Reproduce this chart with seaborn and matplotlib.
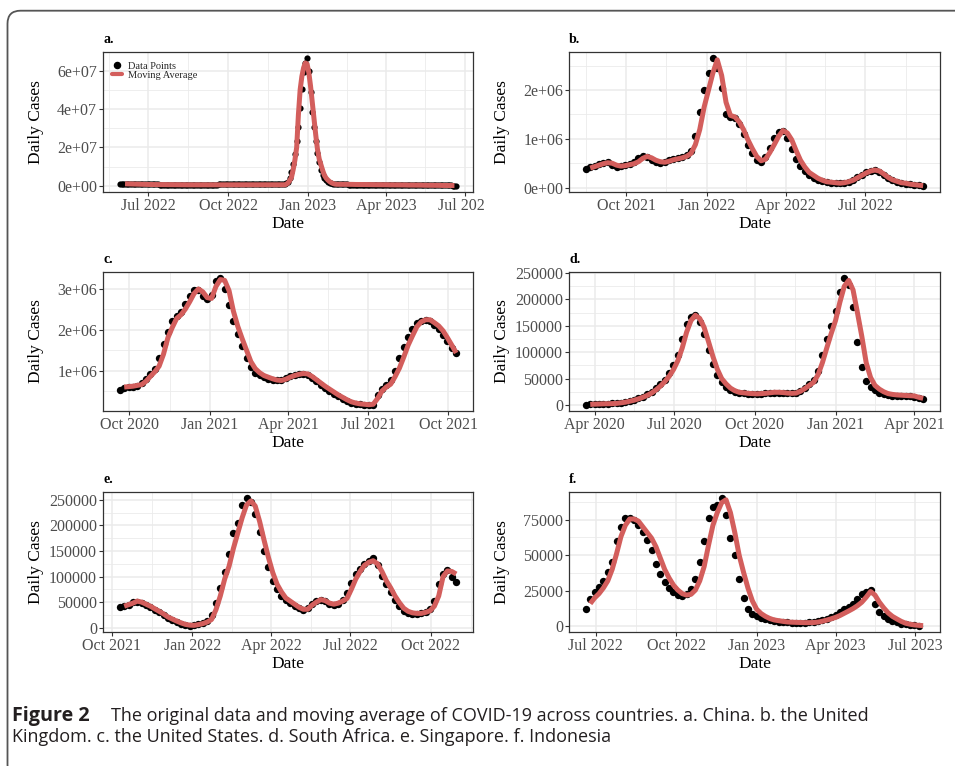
import numpy as np
import pandas as pd
import matplotlib
matplotlib.use("Agg")
import matplotlib.pyplot as plt
import matplotlib.dates as mdates
import matplotlib.ticker as mticker
from matplotlib.lines import Line2D
from matplotlib.patches import FancyBboxPatch
from matplotlib.transforms import Bbox, TransformedBbox, offset_copy, IdentityTransform
import seaborn as sns

# ---------------- data ----------------
# a. China  (millions, every 2 days)
a_start, a_step = "2022-05-29", 2
a_cases_m = [
    1.1, 1.1, 1.1, 1.05, 1.0, 1.0, 0.95, 0.95, 0.9, 0.9, 0.9, 0.85, 0.85, 0.8, 0.8, 0.8, 0.75,
    0.75, 0.75, 0.7, 0.7, 0.7, 0.7, 0.65, 0.65, 0.65, 0.65, 0.6, 0.6, 0.6, 0.6, 0.6, 0.6,
    0.6, 0.6, 0.6, 0.6, 0.6, 0.6, 0.6, 0.6, 0.6, 0.6, 0.6, 0.6, 0.65, 0.65, 0.65, 0.65, 0.65,
    0.65, 0.65, 0.65, 0.65, 0.65, 0.65, 0.65, 0.7, 0.7, 0.7, 0.7, 0.7, 0.7,
    0.7, 0.7, 0.7, 0.7, 0.7, 0.7, 0.7, 0.7, 0.7, 0.7, 0.7, 0.7, 0.7, 0.7, 0.7, 0.7, 0.7, 0.7,
    0.7, 0.7, 0.75, 0.75, 0.75, 0.75, 0.75, 0.75, 0.75, 0.75, 0.75, 0.75, 0.75,
    0.8, 1.0, 1.4, 2.2, 4.0,
    7.0, 11.4, 16.6, 23.5, 30.6, 40.7, 50.7, 59.4, 63.8, 66.4, 60.0, 49.0, 38.5, 30.5, 23.6,
    17.0, 12.5, 8.5, 5.5, 4.0, 3.0, 2.2, 1.7, 1.3, 1.0, 0.9,
    0.8, 0.8, 0.75, 0.75, 0.7, 0.7, 0.7, 0.65, 0.65, 0.65, 0.6, 0.6, 0.6, 0.6,
    0.55, 0.55, 0.55, 0.55, 0.55, 0.55, 0.55, 0.55, 0.55, 0.55,
    0.5, 0.5, 0.5, 0.5, 0.5, 0.5, 0.5, 0.5, 0.5, 0.5,
    0.45, 0.45, 0.45, 0.45, 0.45, 0.45, 0.45, 0.45, 0.45, 0.45,
    0.4, 0.4, 0.4, 0.4, 0.4, 0.4, 0.35, 0.35, 0.35, 0.35, 0.35, 0.3, 0.3, 0.3, 0.3, 0.3,
    0.25, 0.25, 0.25, 0.25, 0.2, 0.2, 0.2, 0.15, 0.1, 0.1,
]
a_ma_start = "2022-06-04"
a_ma_m = [
    1.05, 1.0, 1.0, 0.98, 0.95, 0.92, 0.9, 0.88, 0.85, 0.82, 0.8, 0.78, 0.75, 0.72,
    0.7, 0.7, 0.68, 0.67, 0.66, 0.65, 0.64, 0.63, 0.62, 0.61, 0.6, 0.6, 0.59, 0.58, 0.57, 0.56,
    0.55, 0.55, 0.54, 0.54, 0.53, 0.53, 0.52, 0.52, 0.51, 0.51, 0.5, 0.5, 0.5, 0.5, 0.5,
    0.5, 0.5, 0.5, 0.5, 0.5, 0.5, 0.5, 0.5, 0.5, 0.5, 0.5, 0.5, 0.5, 0.5, 0.5, 0.5, 0.5, 0.5,
    0.5, 0.5, 0.55, 0.55, 0.55, 0.55, 0.55, 0.55, 0.55, 0.55, 0.55, 0.55, 0.55, 0.55, 0.55,
    0.55, 0.55, 0.55, 0.55, 0.55, 0.55, 0.55, 0.55, 0.55, 0.55, 0.55, 0.55, 0.55, 0.55, 0.55,
    0.8, 1.5, 2.8, 4.4, 8.5, 13.5, 20.0, 37.0, 50.0, 57.0, 61.5, 64.0, 63.5, 59.0, 52.0,
    43.5, 35.0, 26.5, 19.0, 14.0, 11.0, 8.0, 5.5, 4.0, 3.0, 2.2, 1.6, 1.2, 0.9,
    0.8, 0.8, 0.8, 0.8, 0.8, 0.75, 0.75, 0.75, 0.75, 0.75, 0.7, 0.7, 0.7, 0.7, 0.7,
    0.65, 0.65, 0.65, 0.65, 0.65, 0.6, 0.6, 0.6, 0.6, 0.6, 0.55, 0.55, 0.55, 0.55, 0.55,
    0.5, 0.5, 0.5, 0.5, 0.5, 0.45, 0.45, 0.45, 0.45, 0.45, 0.4, 0.4, 0.4, 0.4, 0.4,
    0.35, 0.35, 0.35, 0.35, 0.35, 0.3, 0.3, 0.3, 0.3, 0.3, 0.25, 0.25, 0.25, 0.25, 0.25,
    0.2, 0.2, 0.2, 0.2, 0.2, 0.15, 0.15, 0.15, 0.15,
]

# b. United Kingdom (millions, every 5 days)
b_start, b_ma_start, b_step = "2021-08-16", "2021-08-21", 5
b_cases_m = [
    0.39, 0.42, 0.45, 0.48, 0.50, 0.52, 0.47, 0.43, 0.44, 0.46,
    0.48, 0.52, 0.60, 0.65, 0.62, 0.57, 0.53, 0.51, 0.53, 0.56,
    0.58, 0.60, 0.62, 0.66, 0.75, 1.05, 1.55, 2.00, 2.35, 2.65,
    2.45, 2.05, 1.50, 1.44, 1.42, 1.30, 1.10, 0.88, 0.70, 0.57,
    0.53, 0.62, 0.82, 1.02, 1.15, 1.16, 1.02, 0.80, 0.58, 0.44,
    0.33, 0.25, 0.19, 0.15, 0.13, 0.11, 0.10, 0.09, 0.09, 0.10,
    0.12, 0.16, 0.21, 0.26, 0.31, 0.35, 0.36, 0.32, 0.25, 0.19,
    0.15, 0.12, 0.10, 0.08, 0.07, 0.06, 0.05, 0.04,
]
b_ma_m = [
    0.40, 0.43, 0.46, 0.49, 0.51, 0.50, 0.46, 0.44, 0.45, 0.47,
    0.49, 0.53, 0.60, 0.64, 0.61, 0.56, 0.53, 0.52, 0.54, 0.57,
    0.59, 0.61, 0.64, 0.70, 0.88, 1.19, 1.65, 2.00, 2.35, 2.62,
    2.30, 1.75, 1.48, 1.45, 1.35, 1.19, 0.98, 0.80, 0.64, 0.55,
    0.58, 0.72, 0.88, 1.05, 1.17, 1.12, 0.98, 0.76, 0.56, 0.42,
    0.31, 0.25, 0.19, 0.15, 0.12, 0.11, 0.10, 0.09, 0.10, 0.12,
    0.15, 0.20, 0.25, 0.30, 0.34, 0.36, 0.34, 0.28, 0.21, 0.16,
    0.13, 0.10, 0.09, 0.07, 0.06, 0.05, 0.04,
]

# c. United States (millions, every 5 days)
c_start, c_ma_start, c_step = "2020-09-20", "2020-09-25", 5
c_cases_m = [
    0.52, 0.58, 0.60, 0.61, 0.63, 0.70, 0.80, 0.92, 1.05, 1.30,
    1.65, 1.95, 2.20, 2.33, 2.42, 2.62, 2.82, 2.96, 2.96, 2.82,
    2.74, 2.85, 3.18, 3.25, 3.00, 2.60, 2.20, 1.90, 1.60, 1.32,
    1.08, 0.95, 0.90, 0.85, 0.80, 0.77, 0.76, 0.78, 0.82, 0.86,
    0.89, 0.92, 0.93, 0.90, 0.82, 0.74, 0.66, 0.58, 0.51, 0.44,
    0.37, 0.31, 0.26, 0.22, 0.19, 0.18, 0.17, 0.17, 0.17, 0.40,
    0.55, 0.64, 0.78, 1.00, 1.30, 1.58, 1.82, 2.02, 2.16, 2.22,
    2.24, 2.20, 2.12, 2.02, 1.88, 1.72, 1.55, 1.43,
]
c_ma_m = [
    0.60, 0.61, 0.62, 0.64, 0.66, 0.74, 0.86, 0.97, 1.11, 1.40,
    1.80, 2.05, 2.27, 2.36, 2.50, 2.68, 2.88, 2.99, 2.92, 2.78,
    2.76, 3.05, 3.22, 3.20, 2.95, 2.45, 2.08, 1.78, 1.50, 1.22,
    1.05, 0.95, 0.88, 0.84, 0.80, 0.77, 0.76, 0.79, 0.84, 0.88,
    0.91, 0.93, 0.92, 0.86, 0.78, 0.70, 0.62, 0.55, 0.48, 0.41,
    0.35, 0.29, 0.24, 0.21, 0.19, 0.18, 0.17, 0.18, 0.32, 0.50,
    0.60, 0.67, 0.85, 1.06, 1.33, 1.62, 1.85, 2.07, 2.19, 2.24,
    2.24, 2.17, 2.09, 1.97, 1.80, 1.62, 1.43,
]

# d. South Africa (thousands, every 5 days)
d_start, d_ma_start, d_step = "2020-03-22", "2020-03-27", 5
d_cases_k = [
    0.5, 1.0, 1.5, 2.0, 2.2, 2.4, 2.8, 3.5, 4.5, 6.0,
    8.0, 10, 12.5, 16, 20, 25, 32, 39, 48, 60,
    75, 95, 125, 153, 167, 171, 158, 135, 105, 78,
    57, 43, 34, 28, 25, 23, 22, 21.5, 21, 20.5,
    21, 22, 23, 23.5, 23.5, 23, 22.5, 22, 23, 27,
    33, 40, 47, 65, 95, 125, 150, 178, 215, 240,
    228, 185, 120, 72, 45, 34, 28, 23, 20, 18,
    17, 17, 17, 17, 16.5, 16, 14, 12,
]
d_ma_k = [
    1.0, 1.5, 1.8, 2.1, 2.3, 2.5, 3.0, 4.0, 5.2, 7.0,
    9.0, 11.5, 14.5, 18, 22.5, 28.5, 35.5, 44, 54, 67,
    84, 108, 138, 160, 170, 164, 147, 120, 92, 68,
    50, 40, 32, 27, 24, 23, 22, 21.5, 21, 21.5,
    22, 23, 24, 24, 23.5, 22.5, 22, 22.5, 26, 31,
    37, 43, 57, 80, 108, 135, 160, 195, 225, 236,
    218, 175, 130, 80, 52, 37, 30, 25, 21.5, 20,
    19, 18.5, 18, 17.5, 17, 14.5, 12.5,
]

# e. Singapore (thousands, every 5 days)
e_start, e_ma_start, e_step = "2021-10-10", "2021-10-15", 5
e_cases_k = [
    40, 43, 45, 51, 51, 48, 44, 40, 35, 30,
    24, 19, 15, 11, 7.5, 5.0, 4.0, 5.0, 7.0, 9.5,
    13, 25, 48, 78, 108, 145, 185, 205, 240, 253,
    245, 222, 188, 150, 118, 92, 75, 62, 54, 48,
    43, 38, 34, 38, 47, 53, 55, 52, 46, 44,
    47, 55, 68, 88, 105, 115, 125, 130, 137, 122,
    102, 85, 70, 55, 42, 33, 29, 27, 27, 28,
    30, 36, 52, 85, 106, 112, 100, 90,
]
e_ma_k = [
    42, 45, 48, 52, 50, 46, 42, 37, 32, 27,
    21, 17, 13, 9.5, 6.5, 5.0, 4.6, 6.0, 8.0, 11,
    16, 35, 62, 95, 120, 155, 185, 215, 240, 248,
    238, 208, 172, 138, 108, 85, 70, 58, 52, 46,
    40, 36, 36, 44, 50, 55, 53, 48, 46, 48,
    52, 57, 75, 95, 110, 122, 128, 131, 125, 110,
    92, 78, 62, 49, 38, 32, 29, 28, 28, 30,
    33, 42, 62, 100, 111, 110, 105,
]

# f. Indonesia (thousands, every 5 days)
f_start, f_ma_start, f_step = "2022-06-20", "2022-06-25", 5
f_cases_k = [
    12, 19, 24, 28, 32, 38, 45, 60, 70, 76,
    76, 75, 71, 66, 61, 54, 44, 37, 31, 27,
    24, 22, 21.5, 23, 26, 33, 45, 60, 76, 84,
    85, 90, 78, 62, 50, 33, 20, 12.5, 9, 7.5,
    6, 5, 4.2, 3.6, 3.2, 3.0, 2.8, 2.7, 2.6, 2.6,
    2.6, 2.8, 3.2, 3.9, 4.6, 5.5, 6.6, 7.8, 9.8, 12,
    13.5, 15.5, 19, 23, 24.5, 25.5, 16, 10, 7.5, 5.5,
    4, 3, 2, 1.4, 1.0, 0.7, 0.5,
]
f_ma_k = [
    16, 20, 23, 27, 32, 40, 51, 63, 71, 75.5,
    75.5, 74, 70, 66, 62, 56, 48, 40, 34, 29,
    25.5, 23, 22, 22.5, 25.5, 32, 42, 57, 71, 80,
    87, 89, 80, 66, 50, 38, 27, 18, 12, 9,
    7, 5.5, 4.5, 4, 3.5, 3.1, 2.9, 2.8, 2.7, 2.6,
    2.6, 2.7, 3.0, 3.6, 4.4, 5.3, 6.3, 7.6, 9.2, 10.8,
    12.5, 14.5, 17, 20.5, 24.5, 22, 17, 13, 9.5, 7,
    5.2, 3.5, 2.2, 1.5, 1.0, 0.7, 0.5,
]

panel_labels = ["a.", "b.", "c.", "d.", "e.", "f."]
legend_labels = ["Data Points", "Moving Average"]
x_title, y_title = "Date", "Daily Cases"
caption_bold = "Figure 2"
caption_line1 = "The original data and moving average of COVID-19 across countries. a. China. b. the United"
caption_line2 = "Kingdom. c. the United States. d. South Africa. e. Singapore. f. Indonesia"

# ---------------- style ----------------
sns.set_theme(style="white")
plt.rcParams["font.family"] = ["Liberation Serif", "DejaVu Serif"]
plt.rcParams["axes.xmargin"] = 0.05
plt.rcParams["axes.ymargin"] = 0.05

RED = "#D35E5C"
GRID = "#EBEBEB"
W, H = 955, 766

fig = plt.figure(figsize=(W / 100, H / 100), dpi=100)
fig.patch.set_facecolor("white")

panels = [
    ("a", a_start, a_ma_start, a_step, a_cases_m, a_ma_m, 1e6, 2e7, "sci", (103, 52, 473, 192)),
    ("b", b_start, b_ma_start, b_step, b_cases_m, b_ma_m, 1e6, 1e6, "sci", (569, 52, 940, 192)),
    ("c", c_start, c_ma_start, c_step, c_cases_m, c_ma_m, 1e6, 1e6, "sci", (103, 272, 473, 411)),
    ("d", d_start, d_ma_start, d_step, d_cases_k, d_ma_k, 1e3, 5e4, "int", (569, 272, 940, 411)),
    ("e", e_start, e_ma_start, e_step, e_cases_k, e_ma_k, 1e3, 5e4, "int", (103, 492, 473, 632)),
    ("f", f_start, f_ma_start, f_step, f_cases_k, f_ma_k, 1e3, 2.5e4, "int", (569, 492, 940, 632)),
]

for idx, (key, st, mst, step, cases, ma, scale, ymaj, fmt, box) in enumerate(panels):
    l, t, r, b = box
    ax = fig.add_axes([l / W, 1 - b / H, (r - l) / W, (b - t) / H])
    dfp = pd.DataFrame({"Date": pd.date_range(st, periods=len(cases), freq=f"{step}D"),
                        "cases": np.asarray(cases, dtype=float) * scale})
    dfm = pd.DataFrame({"Date": pd.date_range(mst, periods=len(ma), freq=f"{step}D"),
                        "ma": np.asarray(ma, dtype=float) * scale})
    sns.scatterplot(data=dfp, x="Date", y="cases", ax=ax, color="black",
                    s=(20 if key == "a" else 28), linewidth=0, zorder=2, legend=False)
    sns.lineplot(data=dfm, x="Date", y="ma", ax=ax, color=RED, linewidth=3.6,
                 zorder=3, legend=False, solid_capstyle="butt")

    ax.xaxis.set_major_locator(mdates.MonthLocator(bymonth=[1, 4, 7, 10]))
    ax.xaxis.set_major_formatter(mdates.DateFormatter("%b %Y"))
    ax.yaxis.set_major_locator(mticker.MultipleLocator(ymaj))
    ax.yaxis.set_minor_locator(mticker.MultipleLocator(ymaj / 2))
    if fmt == "sci":
        ax.yaxis.set_major_formatter(mticker.FuncFormatter(lambda v, p: f"{v:.0e}"))
    else:
        ax.yaxis.set_major_formatter(mticker.FuncFormatter(lambda v, p: f"{v:.0f}"))

    # minor date grid halfway between the quarterly breaks
    xl = ax.get_xlim()
    yl = ax.get_ylim()
    majors = np.asarray(ax.xaxis.get_major_locator().tick_values(
        mdates.num2date(xl[0]), mdates.num2date(xl[1])))
    mids = list((majors[:-1] + majors[1:]) / 2)
    gap = majors[1] - majors[0]
    mids = [majors[0] - gap / 2] + mids + [majors[-1] + gap / 2]
    ax.xaxis.set_minor_locator(mticker.FixedLocator(mids))
    ax.set_xlim(xl)
    ax.set_ylim(yl)

    ax.set_axisbelow(True)
    ax.grid(which="major", color=GRID, linewidth=1.1)
    ax.grid(which="minor", color=GRID, linewidth=0.6)
    for sp in ax.spines.values():
        sp.set_color("#333333")
        sp.set_linewidth(0.9)
        sp.set_visible(True)
    ax.tick_params(which="major", length=2.75, width=0.8, color="#333333",
                   labelsize=11.5, labelcolor="#4D4D4D", pad=1.5,
                   bottom=True, left=True)
    ax.tick_params(which="minor", length=0)

    ax.set_xlabel(x_title, fontsize=12.5, color="black")
    ax.set_ylabel(y_title, fontsize=12.5, color="black")
    ax.yaxis.set_label_coords(-67 / (r - l), 0.5)
    ax.yaxis.label.set_va("center")
    ax.xaxis.set_label_coords(0.5, -32 / (b - t))
    ax.xaxis.label.set_va("center")

    ax.text(0, 1, panel_labels[idx], transform=offset_copy(ax.transAxes, fig=fig, x=0, y=9, units="dots"),
            ha="left", va="baseline", fontsize=10, fontweight="bold", color="black")

    if key == "a":
        handles = [Line2D([], [], marker="o", ls="none", color="black", markersize=4.4),
                   Line2D([], [], color=RED, lw=3)]
        ax.legend(handles, legend_labels, loc="upper left", frameon=False, fontsize=7.5,
                  handlelength=0.9, handletextpad=0.6, labelspacing=-0.02,
                  borderaxespad=0.5, borderpad=0.4)
        clip = TransformedBbox(Bbox([[0, 0], [484 / W, 1]]), fig.transFigure)
        fig.canvas.draw()
        for lbl in ax.get_xticklabels():
            lbl.set_clip_box(clip)
            lbl.set_clip_on(True)

# caption
cap_kw = dict(family=["Open Sans", "DejaVu Sans"], color="#231F20", va="baseline")
fig.text(12 / W, 1 - 720.7 / H, caption_bold, fontweight="bold", fontsize=14.2, **cap_kw)
fig.text(111 / W, 1 - 720.7 / H, caption_line1, fontsize=13, **cap_kw)
fig.text(12 / W, 1 - 742.5 / H, caption_line2, fontsize=13, **cap_kw)

# outer rounded frame
frame = FancyBboxPatch((7.5, -12), 975, H - 10.7 + 12, boxstyle="round,pad=0,rounding_size=13",
                       transform=IdentityTransform(), fill=False, edgecolor="#555555", linewidth=1.3)
fig.add_artist(frame)

fig.savefig("out.png", dpi=100, facecolor="white")
